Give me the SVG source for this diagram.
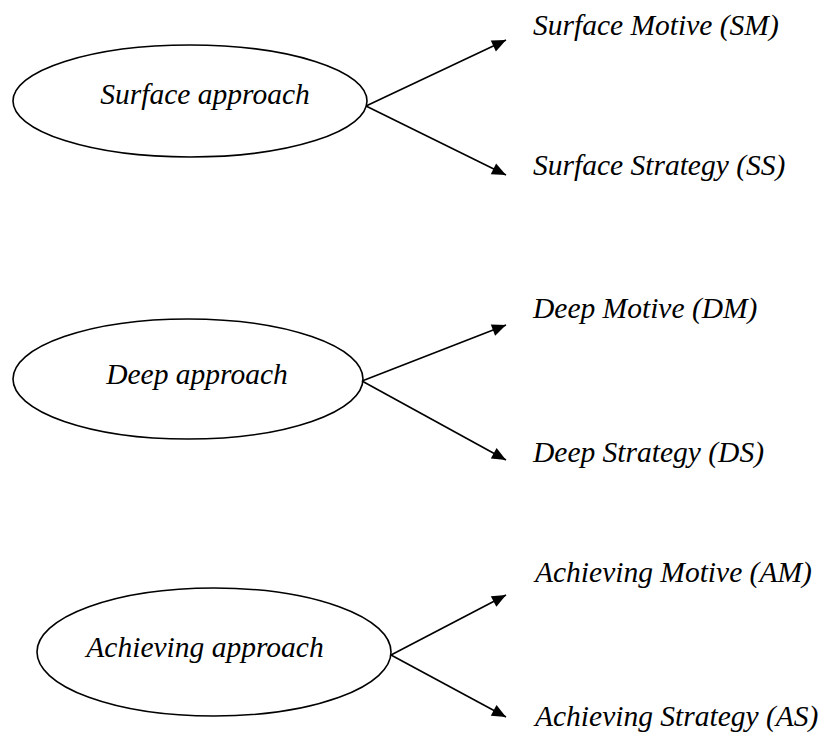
<svg xmlns="http://www.w3.org/2000/svg" width="822" height="734" viewBox="0 0 822 734">
<defs>
<marker id="arr" viewBox="0 0 14 12" refX="14" refY="6" markerWidth="14" markerHeight="12" markerUnits="userSpaceOnUse" orient="auto" overflow="visible">
<path d="M0,0 L14,6 L0,12 z" fill="#000"/>
</marker>
<style>
.e{fill:#fff;stroke:#000;stroke-width:1.6}
.t{font-family:"Liberation Serif",serif;font-style:italic;font-size:29.5px;fill:#000}
.c{stroke:#000;stroke-width:1.6;fill:none}
</style>
</defs>
<rect width="822" height="734" fill="#fff"/>
<g id="surface">
<ellipse class="e" cx="190" cy="101" rx="177" ry="56"/>
<text class="t" x="205" y="104" text-anchor="middle">Surface approach</text>
</g>
<g id="sm"><text class="t" x="533" y="35">Surface Motive (SM)</text></g>
<g id="ss"><text class="t" x="533" y="175">Surface Strategy (SS)</text></g>
<g id="deep">
<ellipse class="e" cx="188" cy="379" rx="175" ry="60"/>
<text class="t" x="197" y="384" text-anchor="middle">Deep approach</text>
</g>
<g id="dm"><text class="t" x="533" y="318">Deep Motive (DM)</text></g>
<g id="ds"><text class="t" x="533" y="462">Deep Strategy (DS)</text></g>
<g id="achieving">
<ellipse class="e" cx="214" cy="652" rx="177" ry="64"/>
<text class="t" x="205" y="657" text-anchor="middle">Achieving approach</text>
</g>
<g id="am"><text class="t" x="535" y="582">Achieving Motive (AM)</text></g>
<g id="as"><text class="t" x="535" y="726">Achieving Strategy (AS)</text></g>
<g id="connectors">
<line class="c" x1="366" y1="106" x2="506" y2="40" marker-end="url(#arr)"/>
<line class="c" x1="366" y1="106" x2="506" y2="175" marker-end="url(#arr)"/>
<line class="c" x1="362" y1="381" x2="506" y2="325" marker-end="url(#arr)"/>
<line class="c" x1="362" y1="381" x2="506" y2="460" marker-end="url(#arr)"/>
<line class="c" x1="391" y1="655" x2="506" y2="595" marker-end="url(#arr)"/>
<line class="c" x1="391" y1="655" x2="506" y2="717" marker-end="url(#arr)"/>
</g>
</svg>
